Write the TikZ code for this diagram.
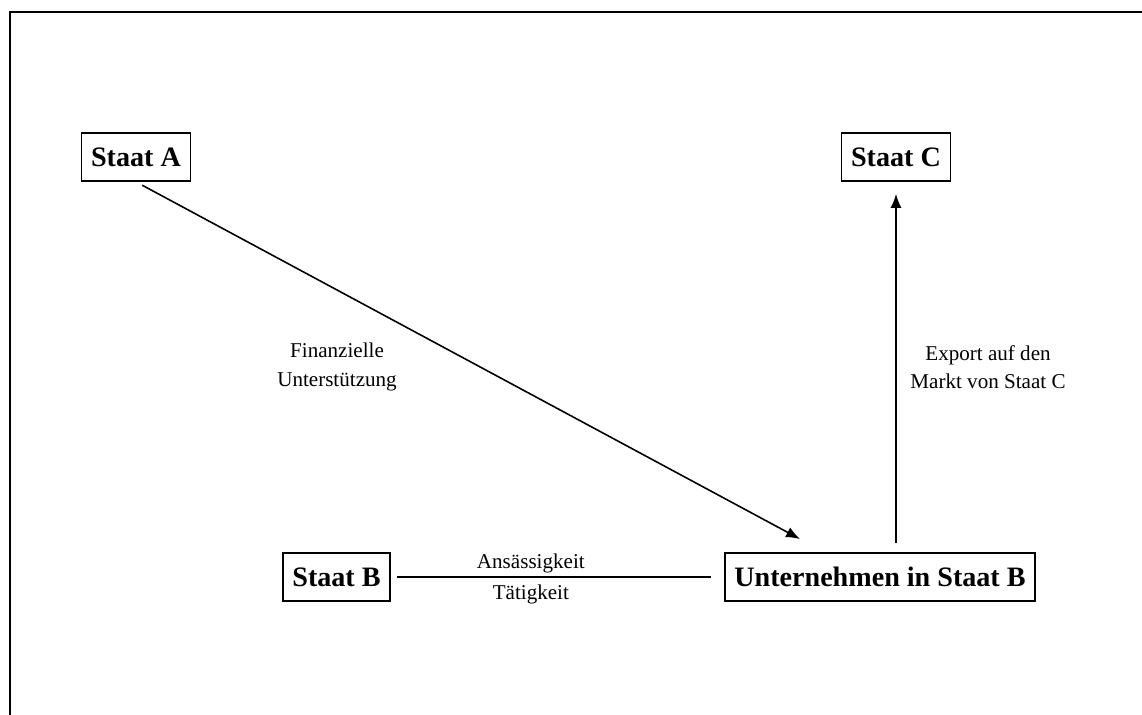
\documentclass[tikz,border=0pt]{standalone}
\usepackage{fontspec}
\setmainfont{Liberation Serif}
\usetikzlibrary{arrows.meta}
\begin{document}
\begin{tikzpicture}[x=0.02cm, y=-0.02cm, >={Latex[length=0.28cm,width=0.22cm]},
                    staat/.style={
                        draw, line width=1pt,
                        minimum height=0.96cm,
                        inner xsep=0.19cm,
                        font=\fontsize{16}{19}\selectfont\bfseries},
                    lbl/.style={
                        align=center, inner sep=1pt,
                        font=\fontsize{12}{16}\selectfont}]
                        \useasboundingbox (0,0) rectangle (1142,715);
                        \draw [line width=1.1pt] (1142,12) -| (10,715);
                        \node [staat] (sa) at (136,157) {Staat A};
                        \node [staat] (sc) at (896,157) {Staat C};
                        \node [staat] (sb) at (336.5,577) {Staat B};
                        \node [staat] (un) at (880,577) {Unternehmen in Staat B};
                        \coordinate (ua) at (800,539);
                        \node [lbl] (fin) at (337,367) {Finanzielle\\Unterstützung};
                        \node [lbl] (exp) at (988,367) {Export auf den\\Markt von Staat C};
                        \draw [->, line width=0.9pt, shorten <=0.14cm] (sa.south) -- (ua);
                        \draw [->, line width=0.9pt, shorten <=0.18cm, shorten >=0.24cm] (un.north -| sc.south) -- (sc.south);
                        \draw [line width=0.9pt, shorten <=0.12cm, shorten >=0.26cm] (sb.east) -- node[lbl, pos=0.42, above, yshift=1pt] {Ansässigkeit} node[lbl, pos=0.42, below, yshift=-3pt] {Tätigkeit} (un.west);
                \end{tikzpicture}
\end{document}
